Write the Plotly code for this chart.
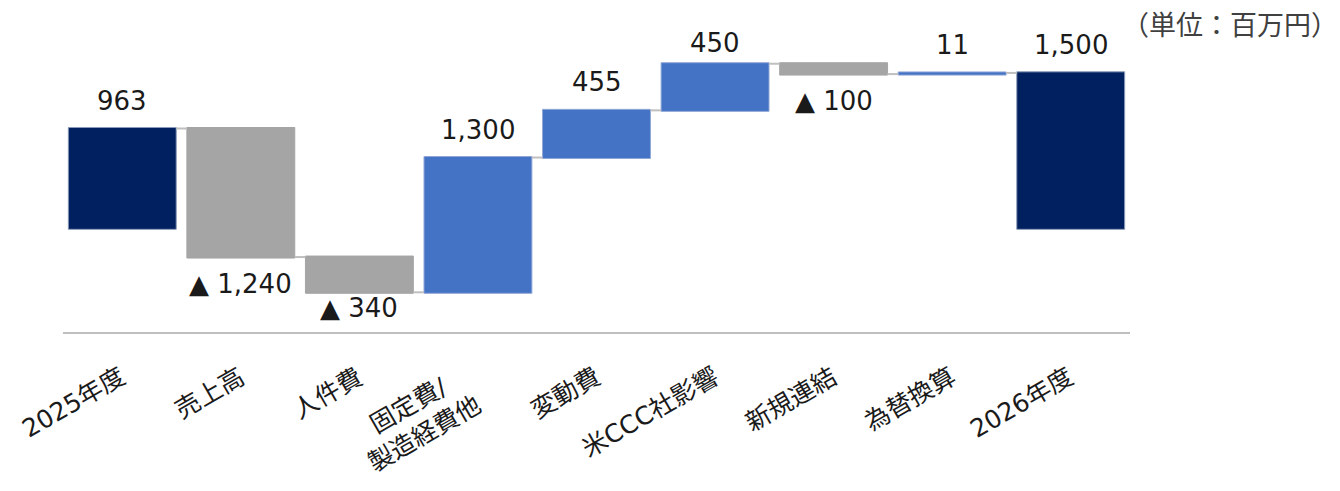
import plotly.graph_objects as go

# Bridge from FY2025 to FY2026 (unit: million yen)
categories = ["2025年度", "売上高", "人件費", "固定費/<br>製造経費他", "変動費",
              "米CCC社影響", "新規連結", "為替換算", "2026年度"]
values = [963, -1240, -340, 1300, 455, 450, -100, 11, 1500]
measures = ["absolute", "relative", "relative", "relative", "relative",
            "relative", "relative", "relative", "absolute"]

NAVY = "#002060"
BLUE = "#4472C4"
GRAY = "#A5A5A5"
FONT = "DejaVu Sans, Noto Sans CJK JP, sans-serif"

W, H = 1340, 491
M_L, M_R, M_T, M_B = 63, 210, 21, 159
Y_MIN, Y_MAX = -1000, 2000
plot_h = H - M_T - M_B
plot_w = W - M_L - M_R


def to_px(v):
    return M_T + (Y_MAX - v) * plot_h / (Y_MAX - Y_MIN)


def to_val(px):
    return Y_MAX - (px - M_T) * (Y_MAX - Y_MIN) / plot_h


def fmt(v):
    return f"{v:,}" if v >= 0 else f"▲ {abs(v):,}"


fig = go.Figure(go.Waterfall(
    x=categories,
    y=values,
    measure=measures,
    totals=dict(marker=dict(color=NAVY, line=dict(color="#8A9BB8", width=1))),
    increasing=dict(marker=dict(color=BLUE, line=dict(color="#8FA6D6", width=1))),
    decreasing=dict(marker=dict(color=GRAY, line=dict(color=GRAY, width=1))),
    connector=dict(mode="between", line=dict(color="#BFBFBF", width=2)),
    hoverinfo="skip",
))

# value labels: above rising/total bars, below falling bars,
# kept inside the plot area (away from the top edge and the axis line)
level = 0
for cat, val, m in zip(categories, values, measures):
    if m == "absolute":
        start, end = 0, val
    else:
        start, end = level, level + val
    level = end
    if val >= 0:
        centre = max(to_px(max(start, end)) - 28, M_T + 22)
    else:
        centre = min(to_px(min(start, end)) + 27, H - M_B - 24)
    fig.add_annotation(x=cat, y=to_val(centre), text=fmt(val),
                       showarrow=False, yanchor="middle",
                       font=dict(family=FONT, size=26, color="#1a1a1a"))

# slanted category labels under the axis, multi-line ones centred
for cat in categories:
    fig.add_annotation(x=cat, xref="x", y=0, yref="paper",
                       text=cat, showarrow=False, textangle=-30,
                       align="center", xanchor="right", yanchor="top",
                       xshift=11, yshift=-27,
                       font=dict(family=FONT, size=25, color="#1a1a1a"))

# unit note in the top-right corner, kept inside the page
fig.add_annotation(xref="paper", yref="paper", x=(W - 1 - M_L) / plot_w,
                   xanchor="right", y=1.0, yanchor="middle", yshift=-4,
                   text="（単位：百万円）", showarrow=False, borderpad=0,
                   font=dict(family=FONT, size=27, color="#404040"))

fig.update_layout(
    width=W, height=H,
    margin=dict(l=M_L, r=M_R, t=M_T, b=M_B),
    paper_bgcolor="white", plot_bgcolor="white",
    showlegend=False,
    waterfallgap=0.09,
    font=dict(family=FONT, size=25, color="#1a1a1a"),
    xaxis=dict(showline=True, linecolor="#BFBFBF", linewidth=2,
               showgrid=False, ticks="", showticklabels=False,
               range=[-0.5, len(categories) - 0.5], autorange=False),
    yaxis=dict(range=[Y_MIN, Y_MAX], visible=False, showgrid=False,
               zeroline=False, autorange=False),
)

fig.write_html("out.html")
